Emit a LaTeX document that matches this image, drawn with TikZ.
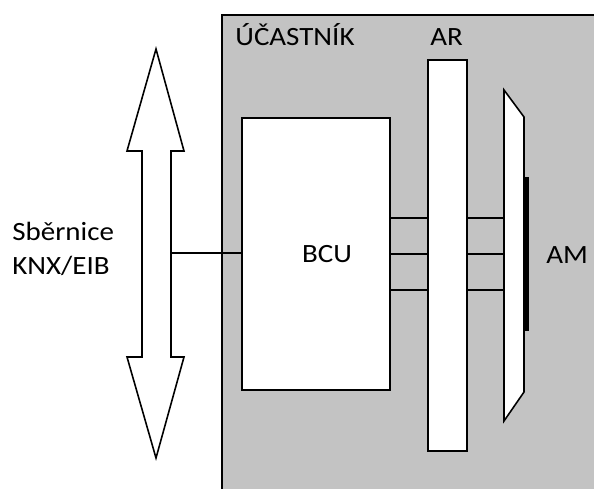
\documentclass[tikz,border=0pt]{standalone}
\usepackage{fontspec}
\setmainfont{Carlito}
\definecolor{boxgray}{RGB}{195,195,195}
\tikzset{
  outline/.style={draw=black, line width=0.9pt},
  whitebox/.style={outline, fill=white, inner sep=0pt},
  wire/.style={draw=black, line width=0.9pt},
  lbl/.style={inner sep=0pt, anchor=base west, font=\fontsize{15}{17}\selectfont, xscale=1.1, text=black}
}
\begin{document}
\begin{tikzpicture}[x=0.02cm, y=-0.02cm]
\useasboundingbox (0,0) rectangle (594,489);
% participant area
\begin{scope}
\clip (0,0) rectangle (594,489);
\draw[fill=boxgray, draw=black, line width=1pt] (222,15) rectangle (620,520);
\end{scope}
% bus double arrow
\draw[outline, fill=white, line join=miter]
  (156,49) -- (184,151) -- (171,151) -- (171,357) -- (184,357) -- (156,458)
  -- (127,357) -- (142,357) -- (142,151) -- (127,151) -- cycle;
\coordinate (busR) at (171,253);
% BCU
\node[whitebox, minimum width={148*0.02cm}, minimum height={272*0.02cm}] (bcu) at (316,254) {};
\node[lbl, anchor=base] (bcutext) at (327,262) {BCU};
% AM shape
\draw[outline, fill=white] (504,90) -- (524,117) -- (524,392) -- (504,421) -- cycle;
\fill[black] (524,177) rectangle (529,331);
\coordinate (am1) at (504,218);
\coordinate (am2) at (504,254);
\coordinate (am3) at (504,290);
% wires
\draw[wire] (busR) -- (bcu.west |- busR);
\draw[wire] (bcu.east |- am1) -- (am1);
\draw[wire] (bcu.east |- am2) -- (am2);
\draw[wire] (bcu.east |- am3) -- (am3);
% AR bar
\node[whitebox, minimum width={39*0.02cm}, minimum height={391*0.02cm}] (ar) at (447.5,255.5) {};
% labels
\node[lbl] (sb) at (12,240) {Sběrnice};
\node[lbl] (knx) at (12,275) {KNX/EIB};
\node[lbl] (uc) at (235,46) {ÚČASTNÍK};
\node[lbl] (arl) at (430,46) {AR};
\node[lbl] (aml) at (546,263) {AM};
\end{tikzpicture}
\end{document}
